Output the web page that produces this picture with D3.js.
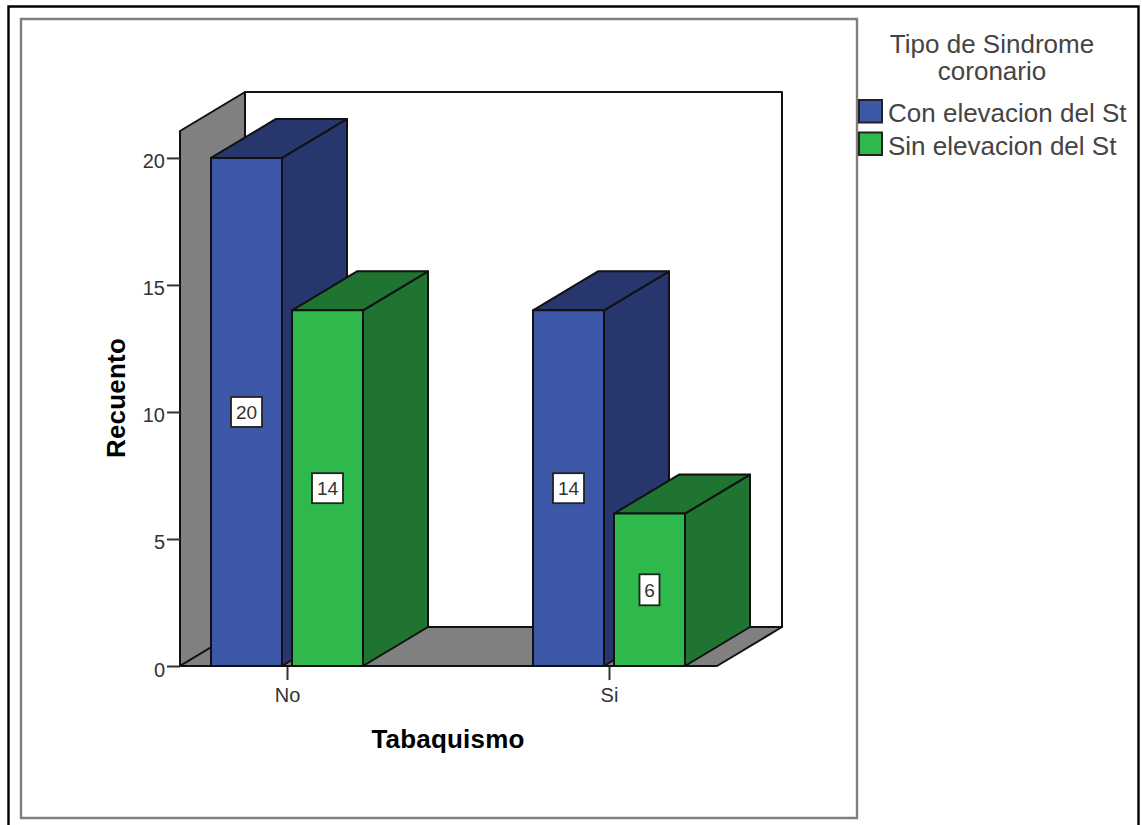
<!DOCTYPE html>
<html>
<head>
<meta charset="utf-8">
<script src="https://cdnjs.cloudflare.com/ajax/libs/d3/7.8.5/d3.min.js"></script>
<style>
html, body { margin: 0; padding: 0; background: #fff; overflow: hidden; }
svg { display: block; }
text { font-family: "Liberation Sans", Arial, sans-serif; fill: #1a1a1a; }
</style>
</head>
<body>
<svg id="chart" width="1142" height="825"></svg>
<script>
// Recuento de pacientes por tabaquismo y tipo de sindrome coronario
const categories = ["No", "Si"];
const seriesNames = ["Con elevacion del St", "Sin elevacion del St"];
const conElevacion = [20, 14];
const sinElevacion = [14, 6];
const yTicks = [0, 5, 10, 15, 20];
const frontColors = ["#3d58a8", "#2fb84b"];
const sideColors = ["#27376e", "#1e7430"];
const topColors = ["#27376e", "#1e7430"];

const svg = d3.select("#chart");
const depthX = 65, depthY = -39;
const plot = { left: 180, right: 717, bottom: 666, top: 131 };

const y = d3.scaleLinear().domain([0, 21.06]).range([plot.bottom, plot.top]);
const x0 = d3.scaleBand().domain(categories).range([126, 770]);
const x1 = d3.scaleBand().domain(seriesNames).range([-76, 76]).paddingInner(10 / 81).paddingOuter(0);
const center = c => x0(c) + x0.bandwidth() / 2;

const outline = { stroke: "#111", "stroke-width": 2, "stroke-linejoin": "round" };
const applyAttrs = (sel, attrs) => { Object.entries(attrs).forEach(([k, v]) => sel.attr(k, v)); return sel; };
const poly = (g, pts, fill) => applyAttrs(g.append("polygon")
  .attr("points", pts.map(p => p.join(",")).join(" "))
  .attr("fill", fill), outline);

// Marcos exteriores de la imagen
svg.append("path").attr("d", "M8.5,825V6.5H1138.5V825").attr("fill", "none")
  .attr("stroke", "#000").attr("stroke-width", 2.4);
svg.append("path").attr("d", "M21,19H857V818H21Z").attr("fill", "#fff")
  .attr("stroke", "#7f7f7f").attr("stroke-width", 2.4);

// Paredes y suelo de la caja 3D
const walls = svg.append("g");
const x0p = plot.left, x1p = plot.right, yb = y(0), yt = y.range()[1];
poly(walls, [[x0p + depthX, yb + depthY], [x1p + depthX, yb + depthY], [x1p + depthX, yt + depthY], [x0p + depthX, yt + depthY]], "#fff");
poly(walls, [[x0p, yb], [x0p + depthX, yb + depthY], [x0p + depthX, yt + depthY], [x0p, yt]], "#808080");
poly(walls, [[x0p, yb], [x1p, yb], [x1p + depthX, yb + depthY], [x0p + depthX, yb + depthY]], "#808080");

// Barras 3D: lateral, tapa y cara frontal
const rows = categories.flatMap((c, i) => [
  { c, s: 0, value: conElevacion[i] },
  { c, s: 1, value: sinElevacion[i] }
]);
const bars = svg.append("g");
rows.forEach(d => {
  const l = center(d.c) + x1(seriesNames[d.s]);
  const r = l + x1.bandwidth();
  const t = y(d.value), b = y(0);
  const g = bars.append("g");
  poly(g, [[r, b], [r + depthX, b + depthY], [r + depthX, t + depthY], [r, t]], sideColors[d.s]);
  poly(g, [[l, t], [r, t], [r + depthX, t + depthY], [l + depthX, t + depthY]], topColors[d.s]);
  poly(g, [[l, b], [r, b], [r, t], [l, t]], frontColors[d.s]);
});

// Ejes
const styleAxis = g => {
  g.selectAll(".tick line").attr("stroke", "#333").attr("stroke-width", 2);
  g.selectAll(".tick text").attr("font-size", 20).style("fill", "#333")
    .style("font-family", '"Liberation Sans", Arial, sans-serif');
};
svg.append("g").attr("transform", `translate(${plot.left},0)`)
  .call(d3.axisLeft(y).tickValues(yTicks).tickSize(13).tickPadding(2).tickSizeOuter(0))
  .call(g => g.select(".domain").remove())
  .call(styleAxis)
  .call(g => g.selectAll(".tick text").attr("dy", "0.5em"));
svg.append("g").attr("transform", `translate(0,${plot.bottom})`)
  .call(d3.axisBottom(d3.scalePoint().domain(categories).range(categories.map(center))).tickSize(14).tickPadding(8))
  .call(g => g.select(".domain").remove())
  .call(styleAxis);
svg.append("line").attr("x1", plot.left).attr("x2", plot.right).attr("y1", y(0)).attr("y2", y(0)).attr("stroke", "#111").attr("stroke-width", 2);

// Etiquetas de valor
const labels = svg.append("g");
rows.forEach(d => {
  const cx = center(d.c) + x1(seriesNames[d.s]) + x1.bandwidth() / 2;
  const cy = (y(d.value) + y(0)) / 2;
  const w = String(d.value).length > 1 ? 31 : 20;
  const h = String(d.value).length > 1 ? 30 : 31;
  labels.append("rect").attr("x", cx - w / 2).attr("y", cy - h / 2).attr("width", w).attr("height", h)
    .attr("fill", "#fff").attr("stroke", "#222").attr("stroke-width", 1.8);
  labels.append("text").attr("x", cx).attr("y", cy).attr("dy", "0.38em").attr("text-anchor", "middle")
    .attr("font-size", 19).style("fill", "#333").text(d.value);
});

// Titulos de los ejes
svg.append("text").attr("x", 448).attr("y", 748).attr("text-anchor", "middle")
  .attr("font-size", 26).attr("font-weight", "bold").attr("letter-spacing", 0.2).style("fill", "#000").text("Tabaquismo");
svg.append("text").attr("transform", "translate(124.5,398) rotate(-90)").attr("text-anchor", "middle")
  .attr("font-size", 26).attr("font-weight", "bold").attr("letter-spacing", 0.2).style("fill", "#000").text("Recuento");

// Leyenda
const legend = svg.append("g");
legend.selectAll("text.title").data(["Tipo de Sindrome", "coronario"]).join("text")
  .attr("class", "title").attr("x", 992).attr("y", (d, i) => 53 + i * 27).attr("text-anchor", "middle")
  .attr("font-size", 26).style("fill", "#444").text(d => d);
seriesNames.forEach((name, i) => {
  const top = 100 + i * 32.5;
  legend.append("rect").attr("x", 859).attr("y", top).attr("width", 23).attr("height", 22.5)
    .attr("fill", frontColors[i]).attr("stroke", "#222").attr("stroke-width", 2);
  legend.append("text").attr("x", 888).attr("y", top + 22).attr("font-size", 26).style("fill", "#444").text(name);
});
</script>
</body>
</html>
